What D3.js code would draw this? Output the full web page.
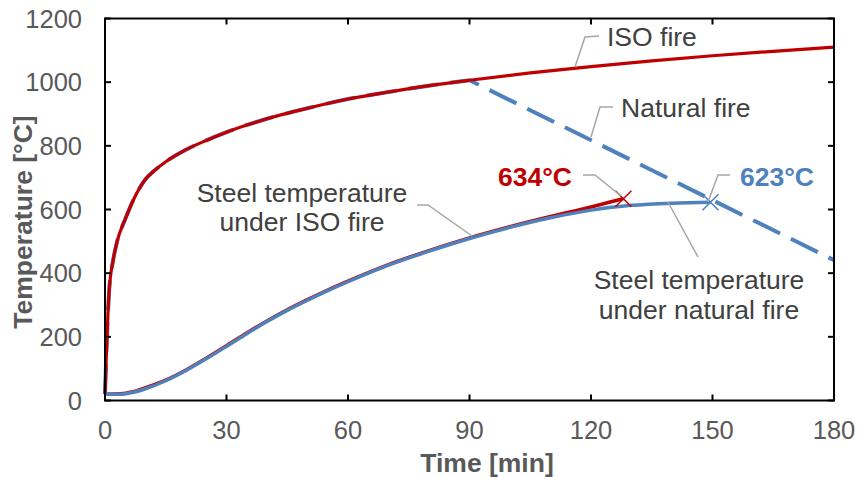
<!DOCTYPE html>
<html>
    <head>
        <meta charset="utf-8">
        <script src="https://cdn.jsdelivr.net/npm/d3@7"></script>
        <style>
            body { margin: 0; background: #fff; }
            svg text { font-family: "Liberation Sans", Arial, sans-serif; }
        </style>
    </head>
    <body>
        <div id="chart"></div>
        <script>
            // values
            var xTicks = [0, 30, 60, 90, 120, 150, 180];
            var yTicks = [0, 200, 400, 600, 800, 1000, 1200];

            var isoTime = [0, 1, 2, 3, 5, 7, 10, 12, 15, 20, 25, 30, 40, 50, 60, 70, 80, 90, 105, 120, 135, 150, 165, 180];
            var isoTemp = [20, 340, 440, 500, 570, 630, 695, 720, 750, 788, 817, 843, 885, 918, 947, 969, 989, 1006, 1029, 1049, 1067, 1083, 1097, 1110];

            var natTime = [0, 1, 2, 3, 5, 7, 10, 12, 15, 20, 25, 30, 40, 50, 60, 70, 80, 90, 180];
            var natTemp = [20, 340, 440, 500, 570, 630, 695, 720, 750, 788, 817, 843, 885, 918, 947, 969, 989, 1006, 441];

            var steelIsoTime = [0, 4, 7, 10, 15, 20, 25, 30, 35, 40, 45, 50, 55, 60, 70, 80, 90, 100, 110, 120, 124, 128];
            var steelIsoTemp = [20, 21, 28, 40, 64, 96, 133, 172, 212, 250, 285, 317, 347, 375, 427, 471, 511, 546, 578, 608, 621, 634];

            var steelNatTime = [0, 4, 7, 10, 15, 20, 25, 30, 35, 40, 45, 50, 55, 60, 70, 80, 90, 100, 110, 120, 130, 140, 149.5];
            var steelNatTemp = [20, 20, 26, 37, 62, 94, 131, 170, 210, 248, 283, 315, 345, 373, 425, 469, 509, 544, 574, 598, 613, 620, 623];

            var red = "#C00000", blue = "#4F81BD";

            var W = 857, H = 477;
            var x = d3.scaleLinear().domain([0, 180]).range([105, 834]);
            var y = d3.scaleLinear().domain([0, 1200]).range([400.5, 18.5]);

            var svg = d3.select("#chart").append("svg")
                .attr("width", W).attr("height", H);

            function pts(ts, vs) {
                return ts.map(function(t, i) { return [t, vs[i]]; });
            }
            var line = d3.line()
                .x(function(d) { return x(d[0]); })
                .y(function(d) { return y(d[1]); })
                .curve(d3.curveMonotoneX);

            // natural fire: smooth heating branch, straight cooling branch
            var nat = pts(natTime, natTemp);
            var last = nat[nat.length - 1];
            var natPath = line(nat.slice(0, nat.length - 1)) + "L" + x(last[0]) + "," + y(last[1]);
            svg.append("path").attr("d", natPath)
                .attr("fill", "none").attr("stroke", blue).attr("stroke-width", 4)
                .attr("stroke-dasharray", "30,12");
            svg.append("path").attr("d", line(pts(isoTime, isoTemp)))
                .attr("fill", "none").attr("stroke", red).attr("stroke-width", 3.2);
            svg.append("path").attr("d", line(pts(steelIsoTime, steelIsoTemp)))
                .attr("fill", "none").attr("stroke", red).attr("stroke-width", 3.5);
            svg.append("path").attr("d", line(pts(steelNatTime, steelNatTemp)))
                .attr("fill", "none").attr("stroke", blue).attr("stroke-width", 3.5);

            // x markers at the maxima
            function cross(t, v, col) {
                var cx = x(t), cy = y(v), s = 8;
                svg.append("path")
                    .attr("d", "M" + (cx - s) + "," + (cy - s) + "L" + (cx + s) + "," + (cy + s) +
                               "M" + (cx - s) + "," + (cy + s) + "L" + (cx + s) + "," + (cy - s))
                    .attr("stroke", col).attr("stroke-width", 1.5).attr("fill", "none");
            }
            cross(steelIsoTime[steelIsoTime.length - 1], steelIsoTemp[steelIsoTemp.length - 1], red);
            cross(steelNatTime[steelNatTime.length - 1], steelNatTemp[steelNatTemp.length - 1], blue);

            // frame with inward ticks
            var plotL = x.range()[0], plotR = x.range()[1], plotB = y.range()[0], plotT = y.range()[1];
            var tk = 6;
            var axes = svg.append("g").attr("stroke", "#000").attr("stroke-width", 2);
            axes.append("rect").attr("x", plotL).attr("y", plotT)
                .attr("width", plotR - plotL).attr("height", plotB - plotT).attr("fill", "none");
            xTicks.forEach(function(t) {
                axes.append("line").attr("x1", x(t)).attr("x2", x(t)).attr("y1", plotB).attr("y2", plotB - tk);
                axes.append("line").attr("x1", x(t)).attr("x2", x(t)).attr("y1", plotT).attr("y2", plotT + tk);
            });
            yTicks.forEach(function(v) {
                axes.append("line").attr("x1", plotL).attr("x2", plotL + tk).attr("y1", y(v)).attr("y2", y(v));
                axes.append("line").attr("x1", plotR).attr("x2", plotR - tk).attr("y1", y(v)).attr("y2", y(v));
            });

            // tick labels
            svg.selectAll("text.xt").data(xTicks).enter().append("text")
                .attr("class", "xt")
                .attr("x", function(d) { return x(d); }).attr("y", 439)
                .attr("text-anchor", "middle").attr("font-size", 25.5).attr("fill", "#595959")
                .text(function(d) { return d; });
            svg.selectAll("text.yt").data(yTicks).enter().append("text")
                .attr("class", "yt")
                .attr("x", 82).attr("y", function(d) { return y(d) + 9; })
                .attr("text-anchor", "end").attr("font-size", 25.5).attr("fill", "#595959")
                .text(function(d) { return d; });

            // axis titles
            svg.append("text").attr("x", 487).attr("y", 472)
                .attr("text-anchor", "middle").attr("font-size", 26.5).attr("font-weight", "bold")
                .attr("fill", "#595959").text("Time [min]");
            svg.append("text").attr("transform", "translate(32,222) rotate(-90)")
                .attr("text-anchor", "middle").attr("font-size", 26.5).attr("font-weight", "bold")
                .attr("fill", "#595959").text("Temperature [°C]");

            // annotations
            var lead = svg.append("g").attr("stroke", "#A6A6A6").attr("stroke-width", 1.5).attr("fill", "none");
            lead.append("polyline").attr("points", "575,67 585,37 599,36");
            lead.append("polyline").attr("points", "591,137 600,107 613,107");
            lead.append("polyline").attr("points", "417,205 428,205 472,236");
            lead.append("polyline").attr("points", "583,175 595,175 621,196");
            lead.append("polyline").attr("points", "730,175 718,175 708,202");
            lead.append("polyline").attr("points", "698,257 668,202");

            function label(tx, ty, lines, anchor, col, bold) {
                var t = svg.append("text").attr("x", tx).attr("y", ty)
                    .attr("text-anchor", anchor).attr("font-size", 26.5).attr("fill", col);
                if (bold) t.attr("font-weight", "bold");
                lines.forEach(function(s, i) {
                    t.append("tspan").attr("x", tx).attr("dy", i == 0 ? 0 : 29.5).text(s);
                });
            }
            label(607, 45.5, ["ISO fire"], "start", "#404040", false);
            label(621, 117, ["Natural fire"], "start", "#404040", false);
            label(302, 201.5, ["Steel temperature", "under ISO fire"], "middle", "#404040", false);
            label(699, 289, ["Steel temperature", "under natural fire"], "middle", "#404040", false);
            label(572, 186, ["634°C"], "end", red, true);
            label(740, 186, ["623°C"], "start", blue, true);
        </script>
    </body>
</html>
